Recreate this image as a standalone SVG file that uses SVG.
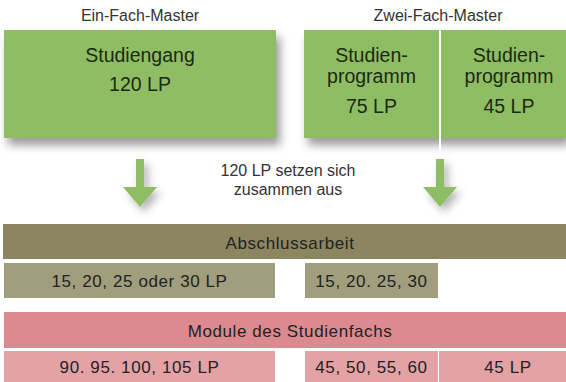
<svg xmlns="http://www.w3.org/2000/svg" width="566" height="382" viewBox="0 0 566 382">
  <defs>
    <filter id="sh" x="-20%" y="-20%" width="150%" height="160%">
      <feDropShadow dx="4" dy="7" stdDeviation="5" flood-color="#000" flood-opacity="0.4"/>
    </filter>
    <filter id="ash" x="-50%" y="-30%" width="200%" height="160%">
      <feDropShadow dx="4" dy="5" stdDeviation="4" flood-color="#000" flood-opacity="0.3"/>
    </filter>
  </defs>
  <style>
    text { font-family: "Liberation Sans", Arial, sans-serif; text-anchor: middle; }
    .title { font-size: 16px; fill: #333; }
    .green { fill: #8fbd63; }
    .gt { font-size: 19.5px; fill: #1c2a12; }
    .olive { fill: #8b8660; }
    .olive2 { fill: #a09e7c; }
    .pink { fill: #dc8a90; }
    .pink2 { fill: #e3a2a6; }
    .bt { font-size: 17px; fill: #222; letter-spacing: 0.6px; }
    .arrow { fill: #8fbd63; filter: url(#ash); }
  </style>
  <rect width="566" height="382" fill="#fff"/>

  <g id="title-ein"><text class="title" x="140" y="21">Ein-Fach-Master</text></g>
  <g id="title-zwei"><text class="title" x="438" y="21">Zwei-Fach-Master</text></g>

  <g id="studiengang">
    <rect class="green" x="4" y="30" width="272" height="108" filter="url(#sh)"/>
    <text class="gt" x="140" y="62">Studiengang</text>
    <text class="gt" x="140" y="91">120 LP</text>
  </g>

  <g id="zwei-fach">
    <rect class="green" x="304" y="30" width="262" height="108" filter="url(#sh)"/>
    <rect x="439" y="30" width="2" height="120" fill="#fff"/>
  </g>
  <g id="studienprogramm-75">
    <text class="gt" x="371.5" y="62">Studien-</text>
    <text class="gt" x="371.5" y="83">programm</text>
    <text class="gt" x="371.5" y="113">75 LP</text>
  </g>
  <g id="studienprogramm-45">
    <text class="gt" x="509" y="62">Studien-</text>
    <text class="gt" x="509" y="83">programm</text>
    <text class="gt" x="509" y="113">45 LP</text>
  </g>

  <g id="connectors">
    <path class="arrow" d="M136,159 H144 V187 H157 L140,207 L123,187 H136 Z"/>
    <path class="arrow" d="M436,159 H444 V187 H457 L440,207 L423,187 H436 Z"/>
  </g>

  <g id="note">
    <text class="title" x="288" y="176">120 LP setzen sich</text>
    <text class="title" x="288" y="195">zusammen aus</text>
  </g>

  <g id="abschlussarbeit">
    <rect class="olive" x="3" y="224" width="563" height="35"/>
    <text class="bt" x="290" y="249">Abschlussarbeit</text>
  </g>
  <g id="abschluss-ein">
    <rect class="olive2" x="4" y="263" width="271" height="35"/>
    <text class="bt" x="139.5" y="287">15, 20, 25 oder 30 LP</text>
  </g>
  <g id="abschluss-zwei">
    <rect class="olive2" x="305" y="263" width="133" height="35"/>
    <text class="bt" x="371.5" y="287">15, 20. 25, 30</text>
  </g>

  <g id="module">
    <rect class="pink" x="4" y="312" width="562" height="36"/>
    <text class="bt" x="290" y="337">Module des Studienfachs</text>
  </g>
  <g id="module-ein">
    <rect class="pink2" x="4" y="351" width="271" height="31"/>
    <text class="bt" x="139.5" y="373">90. 95. 100, 105 LP</text>
  </g>
  <g id="module-zwei-a">
    <rect class="pink2" x="305" y="351" width="133" height="31"/>
    <text class="bt" x="371.5" y="373">45, 50, 55, 60</text>
  </g>
  <g id="module-zwei-b">
    <rect class="pink2" x="439" y="351" width="127" height="31"/>
    <text class="bt" x="508" y="373">45 LP</text>
  </g>
</svg>
